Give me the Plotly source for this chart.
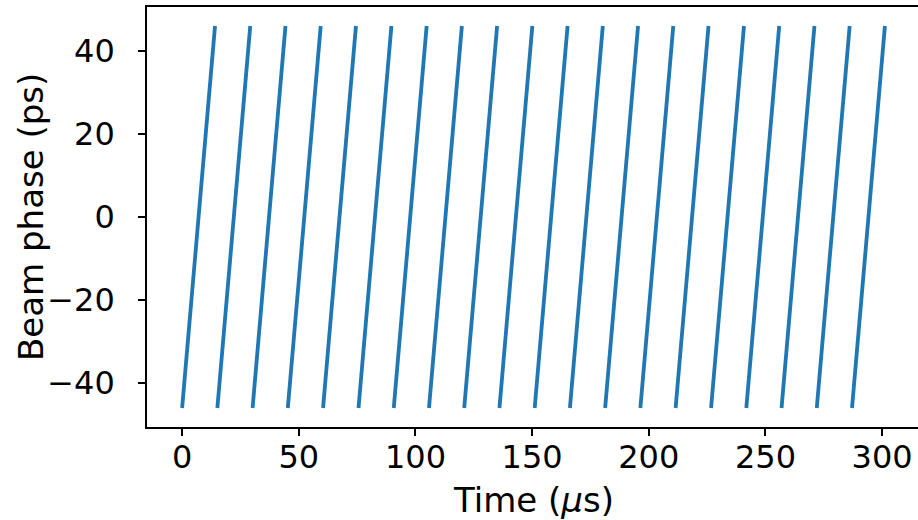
import plotly.graph_objects as go

# Data: each ramp of the beam phase (sawtooth)
ramp_start_us = [0.0, 15.1, 30.2, 45.3, 60.4, 75.6, 90.7, 105.8, 120.9, 136.0,
                 151.1, 166.2, 181.3, 196.4, 211.5, 226.7, 241.8, 256.9, 272.0, 287.1]
ramp_end_us = [14.1, 29.2, 44.3, 59.4, 74.5, 89.7, 104.8, 119.9, 135.0, 150.1,
               165.2, 180.3, 195.4, 210.5, 225.6, 240.8, 255.9, 271.0, 286.1, 301.2]
phase_min_ps = -46.0
phase_max_ps = 46.0

x_ticks = [0, 50, 100, 150, 200, 250, 300]
y_ticks = [-40, -20, 0, 20, 40]
y_tick_text = ["\u221240", "\u221220", "0", "20", "40"]
x_title = "Time (<i>\u03bc</i>s)"
y_title = "Beam phase (ps)"

xs, ys = [], []
for s, e in zip(ramp_start_us, ramp_end_us):
    xs += [s, e, None]
    ys += [phase_min_ps, phase_max_ps, None]

fig = go.Figure()
fig.add_trace(go.Scatter(x=xs, y=ys, mode="lines",
                         line=dict(color="#1f77b4", width=3.8),
                         connectgaps=False, showlegend=False,
                         hoverinfo="skip"))

TICK_FS = 32
TITLE_FS = 34
font_family = "DejaVu Sans"
fig.update_layout(
    width=918, height=520,
    margin=dict(l=147, r=0, t=7, b=93),
    paper_bgcolor="white", plot_bgcolor="white",
    font=dict(family=font_family, size=TICK_FS, color="black"),
    xaxis=dict(
        range=[-15.05, -15.05 + 771 / 2.3333],
        tickvals=x_ticks, ticks="outside", ticklen=7, tickwidth=1.6,
        tickcolor="black", showline=True, linecolor="black", linewidth=1.6,
        mirror=True, showgrid=False, zeroline=False,
        tickfont=dict(size=TICK_FS), ticklabelstandoff=-6,
        automargin=False,
    ),
    yaxis=dict(
        range=[-50.58, 50.58],
        tickvals=y_ticks, ticktext=y_tick_text, ticks="outside", ticklen=7,
        tickwidth=1.6, tickcolor="black", showline=True, linecolor="black",
        linewidth=1.6, mirror=False, showgrid=False, zeroline=False,
        tickfont=dict(size=TICK_FS), ticklabelstandoff=17,
        automargin=False,
    ),
    annotations=[
        dict(text=x_title, xref="paper", yref="paper", x=0.5, y=0,
             xanchor="center", yanchor="middle", xshift=0.5,
             yshift=-73, showarrow=False, font=dict(size=TITLE_FS)),
        dict(text=y_title, xref="paper", yref="paper", x=0, y=0.5,
             xanchor="center", yanchor="middle", xshift=-116, yshift=0,
             textangle=-90, showarrow=False, font=dict(size=TITLE_FS)),
    ],
)

# remove the default 8px page margin so the 918x520 figure fills the window
fig.write_html("out.html",
               config={"displayModeBar": False},
               post_script="document.body.style.margin='0';"
                           "document.body.style.overflow='hidden';")
